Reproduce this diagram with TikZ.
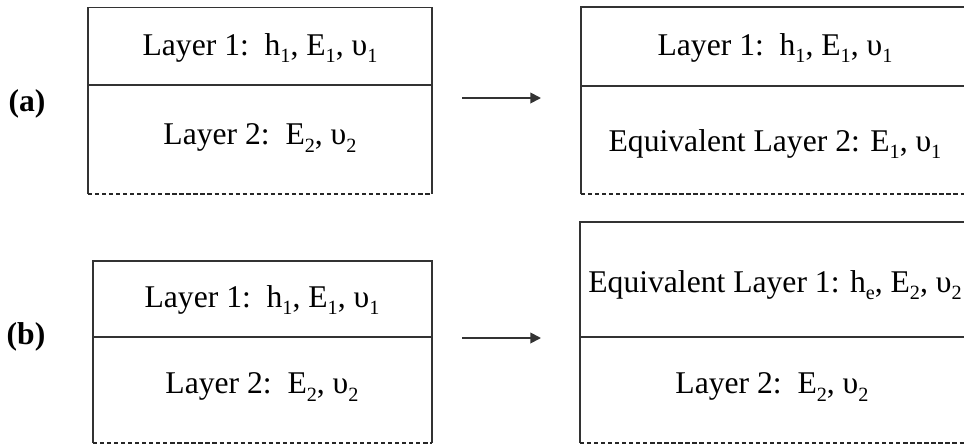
\documentclass[tikz,border=0pt]{standalone}
\usepackage{fontspec}
\setmainfont{Liberation Serif}
\usepackage{tikz}
\usetikzlibrary{arrows.meta,positioning}
\newcommand{\lsub}[1]{\raisebox{-4.2pt}{\fontsize{11.5}{12}\selectfont #1}}

\begin{document}
\begin{tikzpicture}[x=0.02cm, y=0.02cm,
    layer/.style={font=\fontsize{18}{20}\selectfont, inner sep=0pt},
    tag/.style={font=\fontsize{18}{20}\selectfont\bfseries, inner sep=0pt},
    frame/.style={black!80, line width=0.9pt},
    base/.style={black!85, line width=0.8pt, dash pattern=on 2.4pt off 1.6pt},
    flow/.style={-{Triangle[length=6pt,width=6pt]}, black!80, line width=1pt}
]
    \useasboundingbox (0,0) rectangle (964,444);

    % (a) original
    \draw[frame] (88,250) -- (88,436.5) -- (432,436.5) -- (432,250);
    \draw[frame] (88,359) -- (432,359);
    \draw[base] (88,250) -- (432,250);
    \node[layer] (a1) at (260,396) {Layer 1:\ \ h\lsub{1}, E\lsub{1}, υ\lsub{1}};
    \node[layer] (a2) at (260,306) {Layer 2:\ \ E\lsub{2}, υ\lsub{2}};

    % (a) equivalent
    \draw[frame] (581,250) -- (581,437) -- (964,437);
    \draw[frame] (581,358) -- (964,358);
    \draw[base] (581,250) -- (964,250);
    \node[layer] (ae1) at (775,396) {Layer 1:\ \ h\lsub{1}, E\lsub{1}, υ\lsub{1}};
    \node[layer] (ae2) at (775,300) {Equivalent Layer 2: E\lsub{1}, υ\lsub{1}};

    % (b) original
    \draw[frame] (93,1) -- (93,183) -- (432,183) -- (432,1);
    \draw[frame] (93,107) -- (432,107);
    \draw[base] (93,1) -- (432,1);
    \node[layer] (b1) at (262,144) {Layer 1:\ \ h\lsub{1}, E\lsub{1}, υ\lsub{1}};
    \node[layer] (b2) at (262,57) {Layer 2:\ \ E\lsub{2}, υ\lsub{2}};

    % (b) equivalent
    \draw[frame] (580,1) -- (580,222) -- (964,222);
    \draw[frame] (580,107) -- (964,107);
    \draw[base] (580,1) -- (964,1);
    \node[layer] (be1) at (775,159) {Equivalent Layer 1: h\lsub{e}, E\lsub{2}, υ\lsub{2}};
    \node[layer] (be2) at (772,57) {Layer 2:\ \ E\lsub{2}, υ\lsub{2}};

    % labels and arrows
    \node[tag] (ta) at (27,340) {(a)};
    \node[tag] (tb) at (26,107) {(b)};
    \coordinate (as) at (462,346);
    \coordinate (ae) at (541,346);
    \coordinate (bs) at (462,106);
    \coordinate (be) at (541,106);
    \draw[flow] (as) -- (ae);
    \draw[flow] (bs) -- (be);
\end{tikzpicture}
\end{document}
